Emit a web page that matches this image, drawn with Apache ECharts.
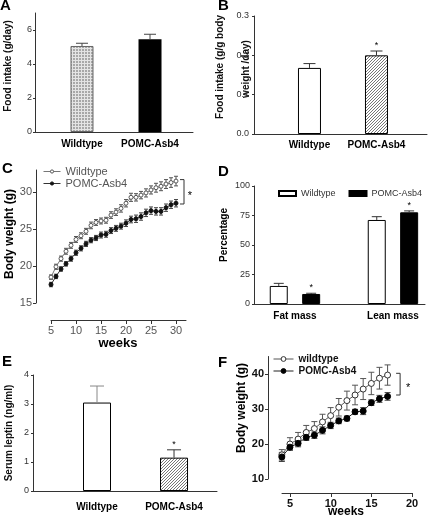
<!DOCTYPE html>
<html><head><meta charset="utf-8">
<script src="https://cdn.jsdelivr.net/npm/echarts@6/dist/echarts.min.js"></script>
<style>html,body{margin:0;padding:0;background:#fff}#c{width:435px;height:518px}</style>
</head><body><div id="c"></div>
<script>
// ---------- DATA ----------
const barCats = ['Wildtype', 'POMC-Asb4'];
// A: food intake (g/day)
const aMean = [5.06, 5.45];
const aErr = [0.16, 0.30];
// B: food intake (g/g body weight/day)
const bMean = [0.168, 0.200];
const bErr = [0.011, 0.011];
const bSig = [0, 1];
// C: body weight over weeks
const cWeeks = [5,6,7,8,9,10,11,12,13,14,15,16,17,18,19,20,21,22,23,24,25,26,27,28,29,30];
const cWT = [18.5,19.9,21.0,22.0,22.8,23.6,24.1,24.7,25.5,25.9,26.1,26.2,26.9,27.3,27.8,28.5,29.3,29.3,29.6,29.9,30.3,30.6,30.8,31.1,31.3,31.5];
const cWTErr = [0.3,0.35,0.35,0.4,0.4,0.4,0.4,0.4,0.45,0.4,0.4,0.4,0.45,0.45,0.5,0.5,0.55,0.5,0.5,0.55,0.55,0.6,0.6,0.6,0.65,0.65];
const cPOMC = [17.5,18.6,19.6,20.3,21.0,21.8,22.4,23.0,23.5,23.8,24.2,24.3,24.8,25.1,25.4,25.8,26.3,26.4,26.7,27.2,27.5,27.4,27.4,27.9,28.3,28.5];
const cPOMCErr = [0.3,0.3,0.3,0.3,0.35,0.35,0.35,0.35,0.35,0.35,0.4,0.4,0.4,0.4,0.4,0.45,0.45,0.5,0.5,0.5,0.5,0.5,0.5,0.5,0.5,0.5];
const cBracket = [31.6, 31.7, 28.4]; // x (week), top, bottom
const cTicksX = [5,10,15,20,25,30];
const cTicksY = [15,20,25,30];
// D: body composition (%)
const dCats = ['Fat mass', 'Lean mass'];
const dWT = [15.3, 71.2];
const dWTErr = [2.2, 2.8];
const dPOMC = [8.5, 77.7];
const dPOMCErr = [0.6, 1.2];
const dPOMCSig = [1, 1];
const dTicksY = [0,25,50,75,100];
// E: serum leptin (ng/ml)
const eMean = [3.05, 1.15];
const eErr = [0.57, 0.27];
const eSig = [0, 1];
// F: body weight over weeks
const fWeeks = [4,5,6,7,8,9,10,11,12,13,14,15,16,17];
const fWT = [16.9,20.0,21.4,23.3,24.4,26.3,28.1,30.5,32.4,34.0,35.7,37.3,38.8,39.7];
const fWTErr = [1.5,1.8,1.9,2.0,2.0,2.2,2.3,2.5,2.7,2.8,3.0,3.2,3.1,2.9];
const fPOMC = [16.3,19.1,20.2,21.9,22.5,23.9,25.3,26.6,27.3,29.2,29.4,31.8,32.9,33.6];
const fPOMCErr = [1.3,0.8,1.0,0.9,0.9,1.0,0.9,0.8,0.7,0.7,1.0,0.8,1.0,1.1];
const fBracket = [18.54, 40.2, 34.0];
const fTicksX = [5,10,15,20];
const fTicksY = [10,20,30,40];

// ---------- STYLE HELPERS ----------
const FONT = 'Liberation Sans, Arial, Helvetica, sans-serif';
const AX = '#333';
function hatchPattern() {
  const c = document.createElement('canvas'); c.width = 3; c.height = 3;
  const g = c.getContext('2d');
  g.fillStyle = '#fff'; g.fillRect(0,0,3,3);
  g.fillStyle = '#777';
  g.fillRect(2,0,1,1); g.fillRect(1,1,1,1); g.fillRect(0,2,1,1);
  return {image: c, repeat: 'repeat'};
}
function checkPattern() {
  const c = document.createElement('canvas'); c.width = 3; c.height = 3;
  const g = c.getContext('2d');
  g.fillStyle = '#a8a8a8'; g.fillRect(0,0,3,3);
  g.fillStyle = '#e4e4e4'; g.fillRect(0,0,3,1); g.fillRect(0,0,1,3);
  return {image: c, repeat: 'repeat'};
}
function barX(grid, min, max, cats, margin) {
  return {type:'value', gridIndex:grid, min, max, splitLine:{show:false},
    axisLine:{show:true, onZero:false, lineStyle:{color:AX, width:1}}, axisTick:{show:false},
    axisLabel:{customValues:[1,2], formatter: v => cats[Math.round(v)-1] || '', fontSize:10, fontWeight:'bold', color:'#000', margin, fontFamily:FONT}};
}
function valY(grid, min, max, ticks, o) {
  return {type:'value', gridIndex:grid, min, max, splitLine:{show:false},
    axisLine:{show:true, onZero:false, lineStyle:{color:AX, width:1}},
    axisTick:{show:true, customValues:ticks, length:o.tick || 3, lineStyle:{color:AX}},
    axisLabel:{customValues:ticks, fontSize:o.fs, color:o.lc || '#333', margin:o.margin, fontWeight:o.fw || 'normal', formatter:o.fmt, fontFamily:FONT}};
}
function valX(grid, min, max, ticks, o) {
  return {type:'value', gridIndex:grid, min, max, splitLine:{show:false},
    axisLine:{show:true, onZero:false, lineStyle:{color:AX, width:1}},
    axisTick:{show:true, customValues:ticks, length:o.tick || 4, lineStyle:{color:AX}},
    axisLabel:{customValues:ticks, fontSize:o.fs, color:o.lc || '#333', margin:o.margin, fontWeight:o.fw || 'normal', fontFamily:FONT}};
}
function hiddenAx(grid, min, max) {
  return {type:'value', gridIndex:grid, min, max, show:false, splitLine:{show:false}};
}
// error bar renderer: value(0)=x, value(1)=mean, value(2)=err, value(3)=significance
function errRender(capHalf, color, offset, onlyUp, starSize) {
  return function (params, api) {
    const x = api.value(0), m = api.value(1), e = api.value(2), s = api.value(3);
    const hi = api.coord([x, m + e]), lo = api.coord([x, onlyUp ? m : m - e]);
    const cx = hi[0] + offset;
    const st = {stroke: color, lineWidth: 1, fill: null};
    const ch = [
      {type:'line', shape:{x1:cx, y1:lo[1], x2:cx, y2:hi[1]}, style:st},
      {type:'line', shape:{x1:cx-capHalf, y1:hi[1], x2:cx+capHalf, y2:hi[1]}, style:st}
    ];
    if (!onlyUp) ch.push({type:'line', shape:{x1:cx-capHalf, y1:lo[1], x2:cx+capHalf, y2:lo[1]}, style:st});
    if (s === 1) ch.push({type:'text', style:{text:'*', x:cx, y:hi[1]-1, align:'center', verticalAlign:'bottom', fontSize:starSize || 9, fill:'#000', fontFamily:FONT}});
    return {type:'group', children:ch};
  };
}
function bracketRender(tick, starGap) {
  return function (params, api) {
    const x = api.value(0), t = api.coord([x, api.value(1)]), b = api.coord([x, api.value(2)]);
    const st = {stroke:'#333', lineWidth:1, fill:null};
    return {type:'group', children:[
      {type:'polyline', shape:{points:[[t[0]-tick, t[1]], [t[0], t[1]], [t[0], b[1]], [t[0]-tick, b[1]]]}, style:st},
      {type:'text', style:{text:'*', x:t[0]+starGap, y:(t[1]+b[1])/2 + 4, align:'center', verticalAlign:'middle', fontSize:11, fill:'#000', fontFamily:FONT}}
    ]};
  };
}
function errData(xs, means, errs, sig) {
  return means.map((m, i) => [xs[i], m, errs[i], sig ? sig[i] : 0]);
}
const idx = [1, 2];

// ---------- CHART ----------
const chart = echarts.init(document.getElementById('c'), null, {renderer:'canvas'});
const option = {
  animation: false,
  textStyle: {fontFamily: FONT},
  grid: [
    {left:35, top:13, width:158, height:119},   // A
    {left:254, top:16, width:173, height:118},  // B
    {left:36, top:170, width:150, height:133},  // C data
    {left:51, top:319, width:135, height:1},    // C x axis
    {left:254, top:186, width:171, height:118}, // D
    {left:33, top:375, width:184, height:116},  // E
    {left:268, top:356.5, width:144, height:122.5}, // F data
    {left:282, top:492, width:130, height:1}    // F x axis
  ],
  xAxis: [
    barX(0, 0.309, 2.632, barCats, 7),
    barX(1, 0.172, 2.754, barCats, 6),
    hiddenAx(2, 2, 32),
    valX(3, 5, 32, cTicksX, {fs:11, lc:'#555', margin:5}),
    barX(4, 0.582, 2.327, dCats, 7),
    barX(5, 0.169, 2.558, barCats, 11),
    hiddenAx(6, 2.3, 20),
    valX(7, 4, 20, fTicksX, {fs:11, lc:'#111', fw:'bold', margin:5})
  ],
  yAxis: [
    valY(0, 0, 7, [0,2,4,6], {fs:9, margin:3, tick:2}),
    valY(1, 0, 0.3, [0,0.1,0.2,0.3], {fs:9, margin:5, tick:2, fmt: v => v.toFixed(1)}),
    valY(2, 15, 33, cTicksY, {fs:11, lc:'#555', margin:4}),
    hiddenAx(3, 0, 1),
    valY(4, 0, 100, dTicksY, {fs:9, margin:4, tick:2}),
    valY(5, 0, 4, [0,1,2,3,4], {fs:9, margin:4, tick:2}),
    valY(6, 10, 45, fTicksY, {fs:11, lc:'#111', fw:'bold', margin:4}),
    hiddenAx(7, 0, 1)
  ],
  legend: [
    {data:['C:Wildtype','C:POMC-Asb4'], orient:'vertical', left:43, top:166, padding:0, itemWidth:17, itemHeight:4, itemGap:1,
      itemStyle:{borderWidth:1}, lineStyle:{width:1},
      formatter: n => n.slice(2), selectedMode:false, textStyle:{fontSize:11, color:'#555', fontFamily:FONT}},
    {data:['D:Wildtype','D:POMC-Asb4'], orient:'horizontal', left:278, top:189, padding:0, itemWidth:17, itemHeight:5, itemGap:13, icon:'rect',
      formatter: n => n.slice(2), selectedMode:false, textStyle:{fontSize:9, color:'#333', fontFamily:FONT}},
    {data:['F:wildtype','F:POMC-Asb4'], orient:'vertical', left:273, top:354, padding:0, itemWidth:20, itemHeight:6, itemGap:2,
      itemStyle:{borderWidth:1}, lineStyle:{width:1},
      formatter: n => n.slice(2), selectedMode:false, textStyle:{fontSize:10, fontWeight:'bold', color:'#111', fontFamily:FONT}}
  ],
  series: [
    // A
    {type:'bar', xAxisIndex:0, yAxisIndex:0, barWidth:23, silent:true,
      data: aMean.map((v,i) => ({value:[idx[i], v], itemStyle: i === 0 ? {color: checkPattern(), borderColor:'#666', borderWidth:1} : {color:'#000'}}))},
    {type:'custom', xAxisIndex:0, yAxisIndex:0, renderItem: errRender(6, '#444', 0, true), data: errData(idx, aMean, aErr), z:5},
    // B
    {type:'bar', xAxisIndex:1, yAxisIndex:1, barWidth:23, silent:true,
      data: bMean.map((v,i) => ({value:[idx[i], v], itemStyle: i === 0 ? {color:'#fff', borderColor:'#000', borderWidth:1} : {color: hatchPattern(), borderColor:'#000', borderWidth:1}}))},
    {type:'custom', xAxisIndex:1, yAxisIndex:1, renderItem: errRender(6, '#333', 0, true, 9), data: errData(idx, bMean, bErr, bSig), z:5},
    // C
    {type:'custom', xAxisIndex:2, yAxisIndex:2, renderItem: errRender(2, '#555', 0, false), data: errData(cWeeks, cWT, cWTErr), z:1},
    {type:'custom', xAxisIndex:2, yAxisIndex:2, renderItem: errRender(2, '#444', 0, false), data: errData(cWeeks, cPOMC, cPOMCErr), z:1},
    {name:'C:Wildtype', type:'line', xAxisIndex:2, yAxisIndex:2, data: cWeeks.map((w,i) => [w, cWT[i]]),
      symbol:'circle', symbolSize:4, lineStyle:{color:'#777', width:1}, itemStyle:{color:'#fff', borderColor:'#555', borderWidth:1}, z:3},
    {name:'C:POMC-Asb4', type:'line', xAxisIndex:2, yAxisIndex:2, data: cWeeks.map((w,i) => [w, cPOMC[i]]),
      symbol:'circle', symbolSize:4, lineStyle:{color:'#333', width:1}, itemStyle:{color:'#111', borderColor:'#111', borderWidth:1}, z:3},
    {type:'custom', xAxisIndex:2, yAxisIndex:2, renderItem: bracketRender(4, 6), data:[cBracket], z:4},
    // D
    {name:'D:Wildtype', type:'bar', xAxisIndex:4, yAxisIndex:4, barWidth:18, barGap:'80%', silent:true,
      data: dWT.map((v,i) => [idx[i], v]), itemStyle:{color:'#fff', borderColor:'#000', borderWidth:1}},
    {name:'D:POMC-Asb4', type:'bar', xAxisIndex:4, yAxisIndex:4, barWidth:18, barGap:'80%', silent:true,
      data: dPOMC.map((v,i) => [idx[i], v]), itemStyle:{color:'#000', borderColor:'#000', borderWidth:1}},
    {type:'custom', xAxisIndex:4, yAxisIndex:4, renderItem: errRender(5, '#333', -16.2, true), data: errData(idx, dWT, dWTErr), z:5},
    {type:'custom', xAxisIndex:4, yAxisIndex:4, renderItem: errRender(5, '#333', 16.2, true, 9), data: errData(idx, dPOMC, dPOMCErr, dPOMCSig), z:5},
    // E
    {type:'bar', xAxisIndex:5, yAxisIndex:5, barWidth:28, silent:true,
      data: eMean.map((v,i) => ({value:[idx[i], v], itemStyle: i === 0 ? {color:'#fff', borderColor:'#000', borderWidth:1} : {color: hatchPattern(), borderColor:'#000', borderWidth:1}}))},
    {type:'custom', xAxisIndex:5, yAxisIndex:5, renderItem: errRender(7, '#888', 0, true), data: errData(idx, eMean, eErr, eSig).slice(0,1), z:5},
    {type:'custom', xAxisIndex:5, yAxisIndex:5, renderItem: errRender(7, '#333', 0, true, 9), data: errData(idx, eMean, eErr, eSig).slice(1), z:5},
    // F
    {type:'custom', xAxisIndex:6, yAxisIndex:6, renderItem: errRender(3, '#555', 0, false), data: errData(fWeeks, fWT, fWTErr), z:1},
    {type:'custom', xAxisIndex:6, yAxisIndex:6, renderItem: errRender(3, '#444', 0, false), data: errData(fWeeks, fPOMC, fPOMCErr), z:1},
    {name:'F:wildtype', type:'line', xAxisIndex:6, yAxisIndex:6, data: fWeeks.map((w,i) => [w, fWT[i]]),
      symbol:'circle', symbolSize:6, lineStyle:{color:'#555', width:1}, itemStyle:{color:'#fff', borderColor:'#333', borderWidth:1}, z:3},
    {name:'F:POMC-Asb4', type:'line', xAxisIndex:6, yAxisIndex:6, data: fWeeks.map((w,i) => [w, fPOMC[i]]),
      symbol:'circle', symbolSize:6, lineStyle:{color:'#222', width:1}, itemStyle:{color:'#000', borderColor:'#000', borderWidth:1}, z:3},
    {type:'custom', xAxisIndex:6, yAxisIndex:6, renderItem: bracketRender(4, 8), data:[fBracket], z:4}
  ],
  graphic: [
    // panel letters
    {type:'text', left:0, top:-2, style:{text:'A', font:'bold 15px '+FONT, fill:'#000'}},
    {type:'text', left:218, top:-2, style:{text:'B', font:'bold 15px '+FONT, fill:'#000'}},
    {type:'text', left:2, top:161, style:{text:'C', font:'bold 15px '+FONT, fill:'#000'}},
    {type:'text', left:218, top:164, style:{text:'D', font:'bold 15px '+FONT, fill:'#000'}},
    {type:'text', left:2, top:354, style:{text:'E', font:'bold 15px '+FONT, fill:'#000'}},
    {type:'text', left:218, top:355, style:{text:'F', font:'bold 15px '+FONT, fill:'#000'}},
    // y titles
    {type:'text', x:8, y:66, rotation:Math.PI/2, style:{text:'Food intake (g/day)', font:'bold 10px '+FONT, fill:'#111', align:'center', verticalAlign:'middle'}},
    {type:'text', x:220, y:67, rotation:Math.PI/2, style:{text:'Food intake (g/g body', font:'bold 10px '+FONT, fill:'#111', align:'center', verticalAlign:'middle'}},
    {type:'text', x:246, y:69, rotation:Math.PI/2, style:{text:'weight /day)', font:'bold 10px '+FONT, fill:'#111', align:'center', verticalAlign:'middle'}},
    {type:'text', x:10, y:234, rotation:Math.PI/2, style:{text:'Body weight (g)', font:'bold 12px '+FONT, fill:'#000', align:'center', verticalAlign:'middle'}},
    {type:'text', x:224, y:235, rotation:Math.PI/2, style:{text:'Percentage', font:'bold 10px '+FONT, fill:'#000', align:'center', verticalAlign:'middle'}},
    {type:'text', x:9, y:433, rotation:Math.PI/2, style:{text:'Serum leptin (ng/ml)', font:'bold 10px '+FONT, fill:'#111', align:'center', verticalAlign:'middle'}},
    {type:'text', x:242, y:408, rotation:Math.PI/2, style:{text:'Body weight (g)', font:'bold 12px '+FONT, fill:'#000', align:'center', verticalAlign:'middle'}},
    // x titles
    {type:'text', x:118, y:343, style:{text:'weeks', font:'bold 13px '+FONT, fill:'#000', align:'center', verticalAlign:'middle'}},
    {type:'text', x:346, y:512, style:{text:'weeks', font:'bold 12px '+FONT, fill:'#000', align:'center', verticalAlign:'middle'}}
  ]
};
chart.setOption(option);
</script>
</body></html>
